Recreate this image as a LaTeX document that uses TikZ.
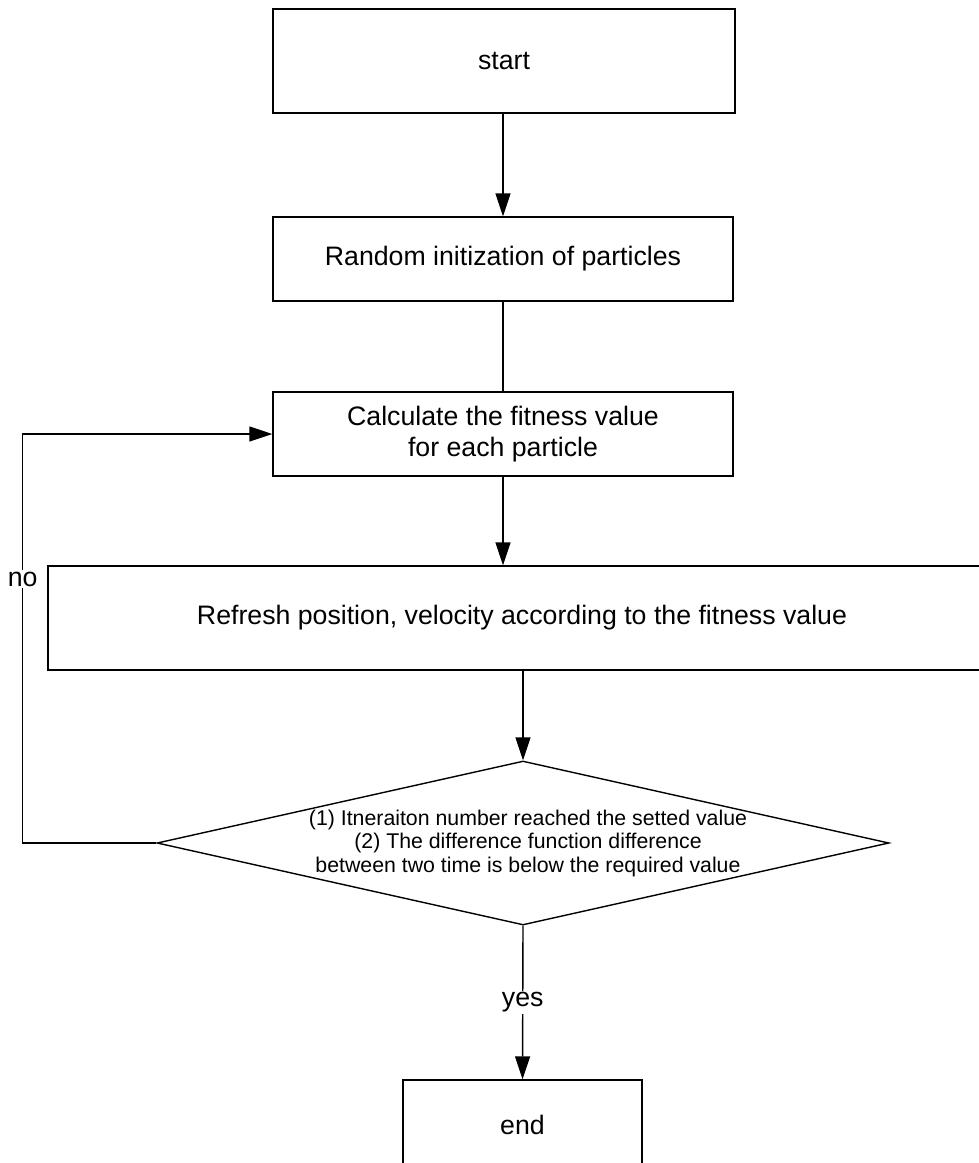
\documentclass[tikz,border=0pt]{standalone}
\usepackage{fontspec}
\setmainfont{Liberation Sans}
\usetikzlibrary{shapes.geometric,arrows.meta,calc}
\begin{document}
\begin{tikzpicture}[x=1pt,y=-1pt,
  box/.style={draw,line width=1.4pt,inner sep=0pt,align=center,font=\fontsize{26.7}{31}\selectfont},
  conn/.style={line width=1.4pt},
  arr/.style={conn,-{Triangle[length=23pt,width=15pt]}},
  lbl/.style={fill=white,draw=none,inner sep=2pt,font=\fontsize{26.7}{31}\selectfont}]
\clip (0,0) rectangle (979,1163);
\fill[white] (0,0) rectangle (979,1163);
\node[box,minimum width=462pt,minimum height=104pt] (start) at (504,61) {start};
\node[box,minimum width=460pt,minimum height=84pt] (random) at (503,259) {Random initization of particles};
\node[box,minimum width=460pt,minimum height=84pt] (calc) at (503,434) {Calculate the fitness value\\for each particle};
\node[box,minimum width=948pt,minimum height=104pt] (refresh) at (522,618) {Refresh position, velocity according to the fitness value};
\node[draw,shape=diamond,line width=1.4pt,inner sep=0pt,minimum width=732pt,minimum height=164pt,
  label={[name=dtext,align=center,xshift=5pt,font=\fontsize{21.3}{23.5}\selectfont]center:{(1) Itneraiton number reached the setted value\\(2) The difference function difference\\between two time is below the required value}}]
  (dia) at (523,843) {};
\node[box,minimum width=239pt,minimum height=90pt] (end) at (522.5,1125) {end};
\coordinate (nocorner) at (22.7,843);

\draw[arr] (random.north |- start.south) -- (random.north);
\draw[conn] (random.south) -- (calc.north);
\draw[arr] (calc.south) -- (calc.south |- refresh.north);
\draw[arr] (dia.north |- refresh.south) -- (dia.north);
\draw[arr] (dia.south) -- (end.north);
\draw[arr] (dia.west) -- (nocorner) |- (calc.west);
\node[lbl] (yes) at ($(dia.south)!0.5!(end.north)$) {yes};
\node[lbl] (no) at (nocorner |- 0,579) {no};
\end{tikzpicture}
\end{document}
